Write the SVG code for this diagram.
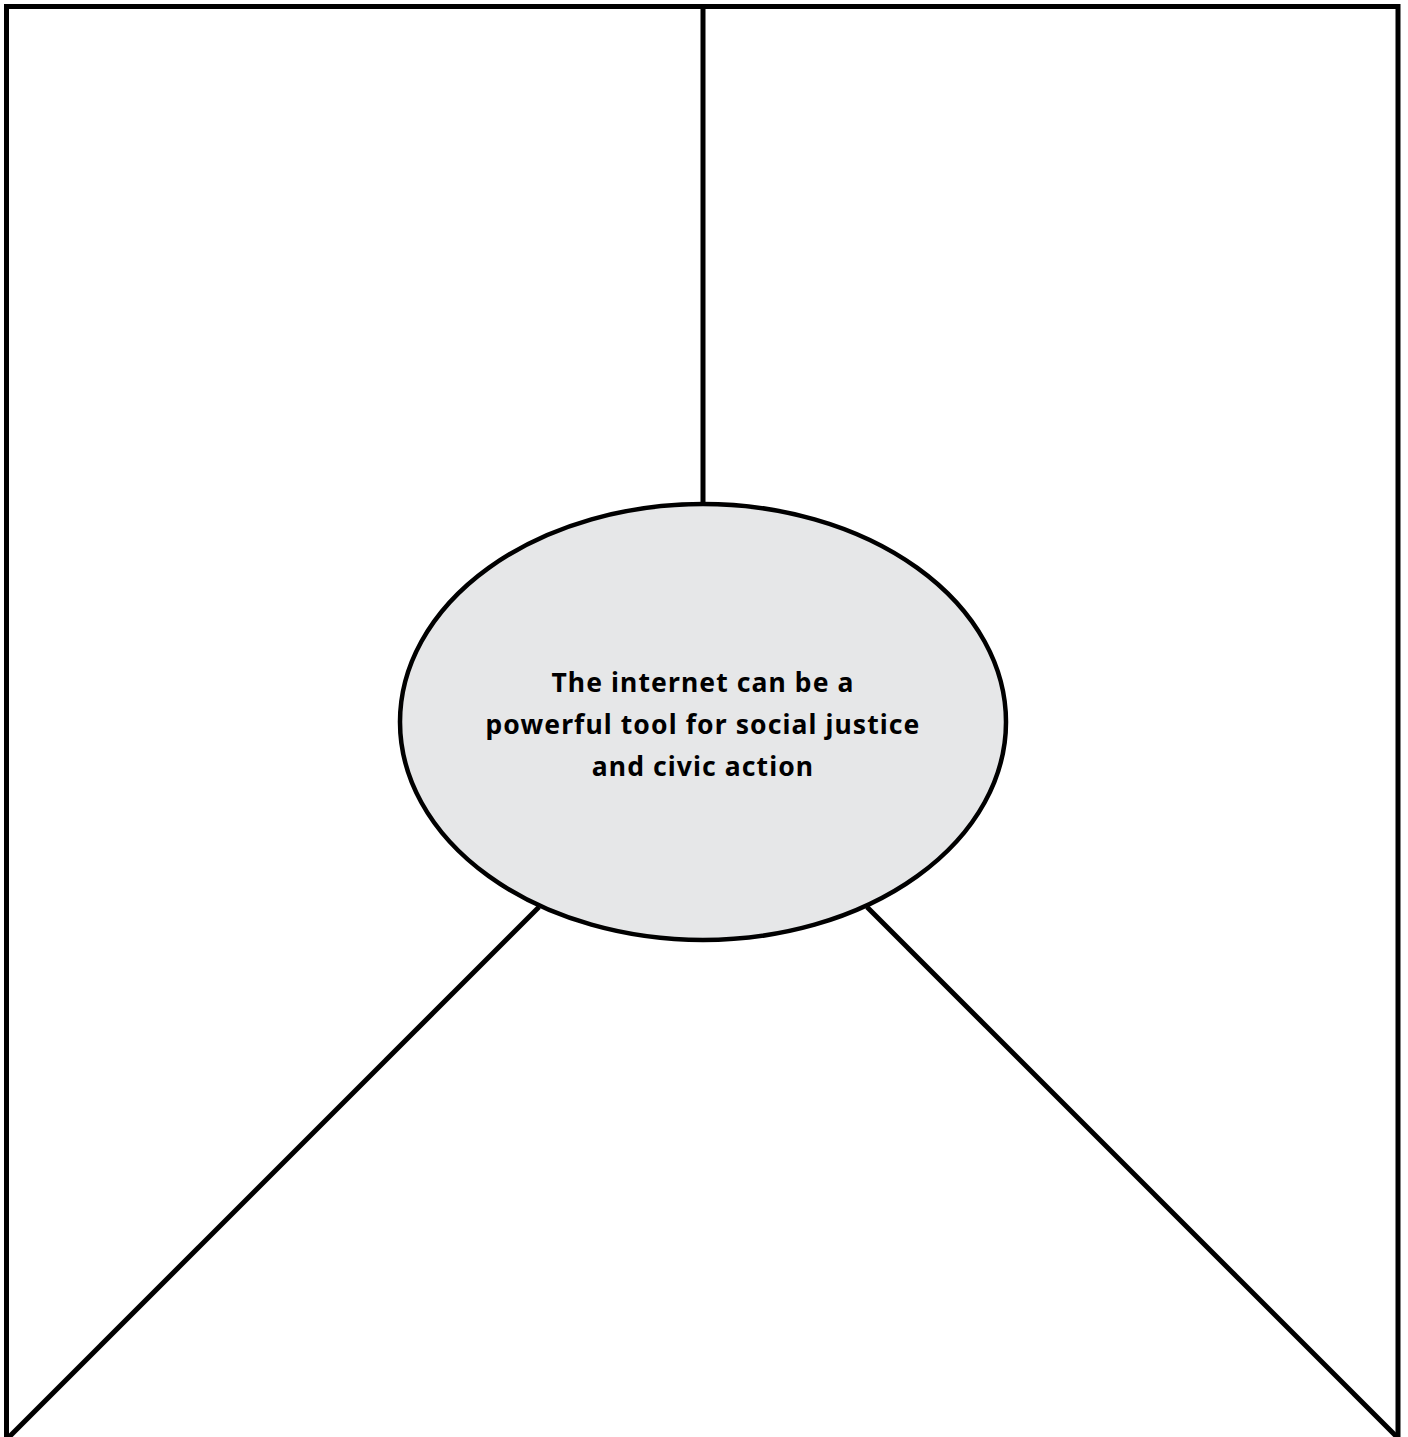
<svg xmlns="http://www.w3.org/2000/svg" width="1408" height="1437" viewBox="0 0 1408 1437">
<style>
.ln{stroke:#000;stroke-width:5;fill:none;stroke-linecap:butt}
.node{fill:#e6e7e8;stroke:#000;stroke-width:4.5}
.lbl{font-family:"Noto Sans","Liberation Sans",sans-serif;font-weight:bold;font-size:26.5px;letter-spacing:1.1px;fill:#000;text-anchor:middle}
</style>
<rect width="1408" height="1437" fill="#fff"/>
<g id="connectors">
<path class="ln" d="M6.5,1437 V6.5 H1398 V1437"/>
<line class="ln" x1="703" y1="6.5" x2="703" y2="505"/>
<line class="ln" x1="539" y1="907" x2="9" y2="1437"/>
<line class="ln" x1="867" y1="907" x2="1397" y2="1437"/>
</g>
<g id="center">
<ellipse class="node" cx="703" cy="722" rx="303" ry="218"/>
<text class="lbl" x="703" y="692">The internet can be a</text>
<text class="lbl" x="703" y="734">powerful tool for social justice</text>
<text class="lbl" x="703" y="776">and civic action</text>
</g>
</svg>
